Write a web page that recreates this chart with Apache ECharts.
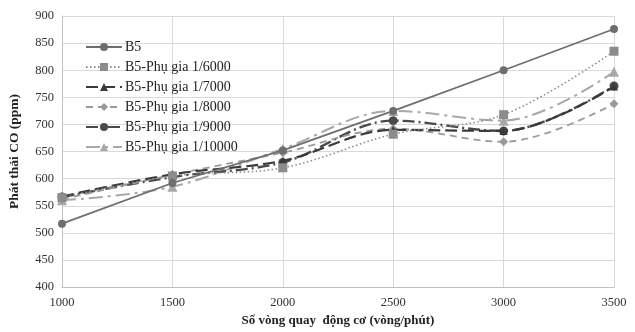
<!DOCTYPE html>
<html><head><meta charset="utf-8">
<script src="https://cdn.jsdelivr.net/npm/echarts@6/dist/echarts.min.js"></script>
<style>html,body{margin:0;padding:0;background:#fff}#c{width:635px;height:332px}</style>
</head><body><div id="c"></div>
<script>
const rpm = [1000, 1500, 2000, 2500, 3000, 3500];
const seriesNames = ['B5', 'B5-Phụ gia 1/6000', 'B5-Phụ gia 1/7000', 'B5-Phụ gia 1/8000', 'B5-Phụ gia 1/9000', 'B5-Phụ gia 1/10000'];
const b5 = [517, 592, 652, 725, 800, 876];
const pg6000 = [565, 605, 620, 682, 718, 835];
const pg7000 = [567, 608, 633, 690, 688, 770];
const pg8000 = [562, 607, 648, 692, 668, 738];
const pg9000 = [566, 603, 630, 707, 688, 771];
const pg10000 = [560, 585, 655, 725, 707, 797];
const yTicks = [400, 450, 500, 550, 600, 650, 700, 750, 800, 850, 900];
const xTicks = [1000, 1500, 2000, 2500, 3000, 3500];

const values = [b5, pg6000, pg7000, pg8000, pg9000, pg10000];
const styles = [
  {color: '#6e6e6e', type: 'solid', width: 1.8, symbol: 'circle', size: 8},
  {color: '#8c8c8c', type: [1.5, 2.5], width: 1.6, symbol: 'rect', size: 9},
  {color: '#3a3a3a', type: [12, 5], width: 2.2, symbol: 'triangle', size: 8},
  {color: '#9a9a9a', type: [7, 5], width: 1.8, symbol: 'diamond', size: 9},
  {color: '#4a4a4a', type: [12, 4, 2, 4], width: 2.4, symbol: 'circle', size: 9},
  {color: '#a8a8a8', type: [14, 5, 3, 5], width: 2.0, symbol: 'triangle', size: 10}
];
const font = '"Liberation Serif", "Times New Roman", serif';
const chart = echarts.init(document.getElementById('c'));
chart.setOption({
  animation: false,
  backgroundColor: '#fff',
  textStyle: {fontFamily: font},
  grid: {left: 60, right: 21, top: 16, bottom: 42},
  legend: {
    orient: 'vertical', left: 80, top: 35, itemGap: 6, itemWidth: 36, itemHeight: 10,
    textStyle: {fontFamily: font, fontSize: 14, color: '#222', padding: [0, 0, 0, -2]},
    data: seriesNames
  },
  xAxis: {
    type: 'value', min: 1000, max: 3500, interval: 500,
    name: 'Số vòng quay  động cơ (vòng/phút)', nameLocation: 'middle', nameGap: 24,
    nameTextStyle: {fontFamily: font, fontWeight: 'bold', fontSize: 13, color: '#222'},
    axisLine: {lineStyle: {color: '#bfbfbf'}}, axisTick: {show: false},
    axisLabel: {fontFamily: font, fontSize: 12.5, color: '#333', margin: 9,
      formatter: v => xTicks.includes(v) ? String(v) : ''},
    splitLine: {show: true, lineStyle: {color: '#d9d9d9'}}
  },
  yAxis: {
    type: 'value', min: 400, max: 900, interval: 50,
    name: 'Phát thải CO (ppm)', nameLocation: 'middle', nameGap: 40,
    nameTextStyle: {fontFamily: font, fontWeight: 'bold', fontSize: 13.5, color: '#222'},
    axisLine: {show: true, lineStyle: {color: '#bfbfbf'}}, axisTick: {show: false},
    axisLabel: {fontFamily: font, fontSize: 12.5, color: '#333', margin: 8,
      formatter: v => yTicks.includes(v) ? String(v) : ''},
    splitLine: {show: true, lineStyle: {color: '#d9d9d9'}}
  },
  series: seriesNames.map((n, i) => ({
    name: n, type: 'line', smooth: i === 0 ? false : 0.35,
    data: rpm.map((x, j) => [x, values[i][j]]),
    symbol: styles[i].symbol, symbolSize: styles[i].size,
    itemStyle: {color: styles[i].color},
    lineStyle: {color: styles[i].color, type: styles[i].type, width: styles[i].width},
    z: 10 - i
  }))
});
</script></body></html>
